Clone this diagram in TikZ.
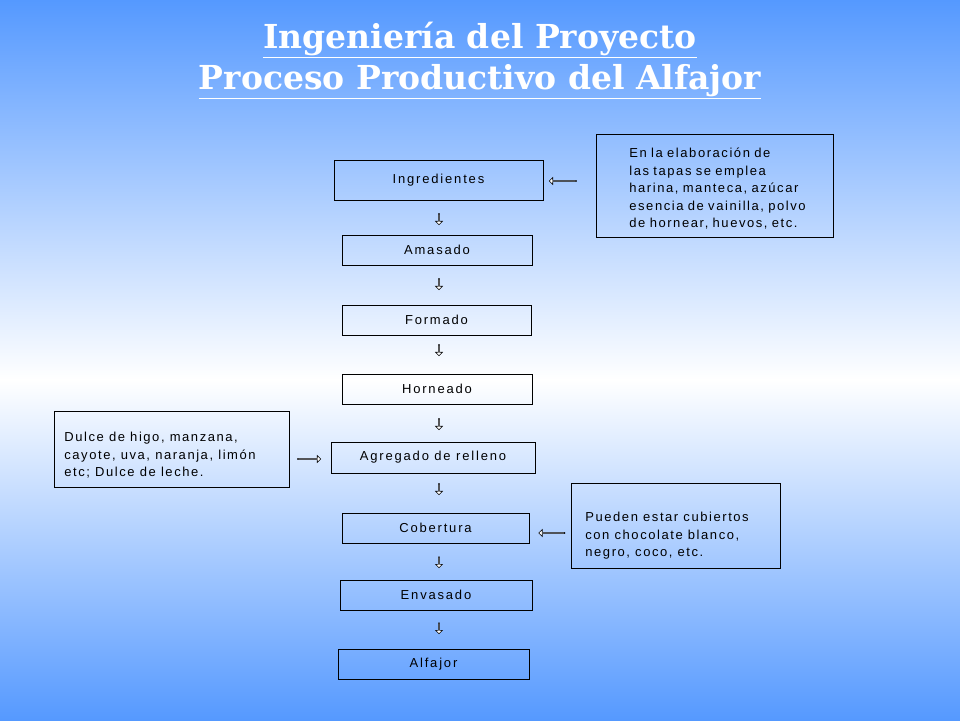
\documentclass[tikz,border=0pt]{standalone}
\usepackage{fontspec}
\setmainfont{Liberation Sans}
\newfontfamily\titlefont{DejaVu Serif}
\usetikzlibrary{shapes.arrows}
\begin{document}
\begin{tikzpicture}[x=1pt,y=-1pt,
  stepbox/.style={draw=black,line width=0.8pt,minimum height=30pt,inner sep=0pt,
    font=\fontsize{13}{15}\selectfont\addfontfeature{LetterSpace=14}},
  notebox/.style={draw=black,line width=0.8pt,align=left,anchor=north west,inner sep=0pt,
    font=\fontsize{13}{17.5}\selectfont\addfontfeature{LetterSpace=12}},
  barrow/.style={single arrow,draw=black,fill=white,line width=0.6pt,inner sep=0pt,
    minimum height=#1,minimum width=7pt,single arrow head extend=1.5pt,single arrow tip angle=90}]
\useasboundingbox (0,0) rectangle (960,720);
\shade[top color={rgb,255:red,85;green,153;blue,255},bottom color=white] (0,0) rectangle (960,380);
\shade[top color=white,bottom color={rgb,255:red,85;green,153;blue,255}] (0,380) rectangle (960,720);
\node[text=white,font=\titlefont\bfseries\fontsize{33}{40}\selectfont] (t1) at (480,40) {\underline{Ingeniería del Proyecto}};
\node[text=white,font=\titlefont\bfseries\fontsize{33}{40}\selectfont] (t2) at (480,82) {\underline{Proceso Productivo del Alfajor}};

\node[stepbox,minimum width=209pt,minimum height=40pt] (s1) at (438.5,180) {Ingredientes};
\node[stepbox,minimum width=190pt] (s2) at (437,250) {Amasado};
\node[stepbox,minimum width=189pt] (s3) at (436.5,320) {Formado};
\node[stepbox,minimum width=190pt] (s4) at (437,389) {Horneado};
\node[stepbox,minimum width=204pt,minimum height=31pt] (s5) at (433,457.5) {Agregado de relleno};
\node[stepbox,minimum width=187pt] (s6) at (435.5,528) {Cobertura};
\node[stepbox,minimum width=192pt] (s7) at (436,595) {Envasado};
\node[stepbox,minimum width=191pt] (s8) at (433.5,664) {Alfajor};

\node[notebox,minimum width=237pt,minimum height=103pt,text width=215pt] (n1) at (596,134)
 {\hspace*{22pt}\parbox[t]{215pt}{\vspace*{6pt}En la elaboración de\\las tapas se emplea\\harina, manteca, azúcar\\esencia de vainilla, polvo\\de hornear, huevos, etc.}};
\node[notebox,minimum width=233pt,minimum height=76pt] (n2) at (54,411)
 {\hspace*{10pt}\parbox[t]{225pt}{\vspace*{12pt}Dulce de higo, manzana,\\cayote, uva, naranja, limón\\etc; Dulce de leche.}};
\node[notebox,minimum width=206pt,minimum height=85pt] (n3) at (571,483)
 {\hspace*{14pt}\parbox[t]{195pt}{\vspace*{20pt}Pueden estar cubiertos\\con chocolate blanco,\\negro, coco, etc.}};

\foreach \y [count=\i] in {219,284,350,424,489,562,628} {
  \node[barrow=11pt,shape border rotate=270] (d\i) at (439,\y) {};
}
\node[barrow=27pt,shape border rotate=180] (a1) at (563,181) {};
\node[barrow=26pt,shape border rotate=180] (a2) at (552,533) {};
\node[barrow=23pt] (a3) at (309,459) {};
\end{tikzpicture}
\end{document}
